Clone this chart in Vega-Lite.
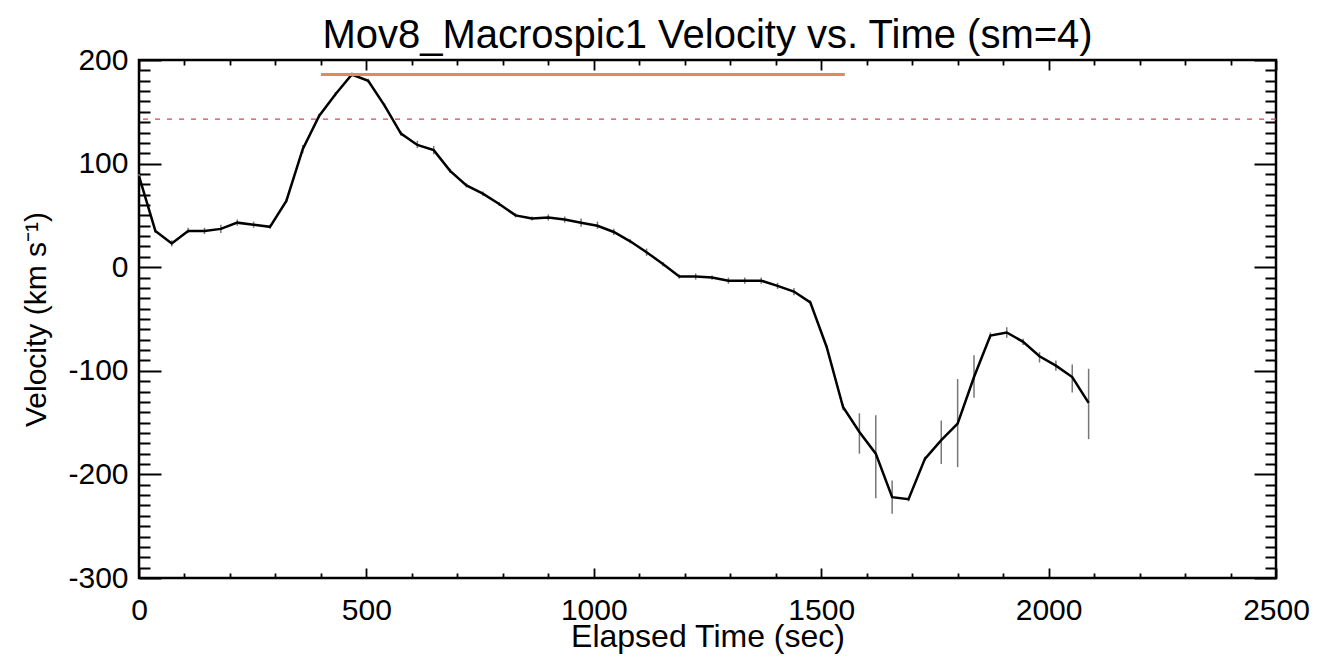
{
  "$schema": "https://vega.github.io/schema/vega-lite/v6.json",
  "width": 1137,
  "height": 518,
  "autosize": {"type": "none"},
  "padding": {"left": 139, "top": 60, "right": 42, "bottom": 84},
  "background": "white",
  "config": {
    "view": {"stroke": "black", "strokeWidth": 2.5},
    "font": "Liberation Sans"
  },
  "title": {
    "text": "Mov8_Macrospic1 Velocity vs. Time (sm=4)",
    "fontSize": 40,
    "font": "Liberation Sans",
    "fontWeight": "normal",
    "color": "black",
    "anchor": "middle",
    "baseline": "alphabetic",
    "offset": -43
  },
  "data": {
    "values": [
      {"t": 0, "v": 88, "lo": 86, "hi": 90},
      {"t": 36, "v": 35, "lo": 33, "hi": 37},
      {"t": 72, "v": 23, "lo": 20, "hi": 26},
      {"t": 108, "v": 35, "lo": 33, "hi": 38},
      {"t": 144, "v": 35, "lo": 32, "hi": 38},
      {"t": 180, "v": 37, "lo": 33, "hi": 41},
      {"t": 216, "v": 43, "lo": 40, "hi": 46},
      {"t": 252, "v": 41, "lo": 38, "hi": 44},
      {"t": 288, "v": 39, "lo": 37, "hi": 41},
      {"t": 324, "v": 64, "lo": 62, "hi": 66},
      {"t": 360, "v": 114, "lo": 110, "hi": 118},
      {"t": 396, "v": 146, "lo": 144, "hi": 148},
      {"t": 432, "v": 167, "lo": 165, "hi": 169},
      {"t": 468, "v": 186, "lo": 184, "hi": 188},
      {"t": 504, "v": 180, "lo": 178, "hi": 182},
      {"t": 540, "v": 156, "lo": 154, "hi": 158},
      {"t": 576, "v": 129, "lo": 127, "hi": 131},
      {"t": 612, "v": 118, "lo": 115, "hi": 122},
      {"t": 648, "v": 113, "lo": 109, "hi": 117},
      {"t": 684, "v": 93, "lo": 91, "hi": 95},
      {"t": 720, "v": 79, "lo": 77, "hi": 81},
      {"t": 756, "v": 71, "lo": 69, "hi": 73},
      {"t": 792, "v": 61, "lo": 59, "hi": 63},
      {"t": 828, "v": 50, "lo": 48, "hi": 52},
      {"t": 864, "v": 47, "lo": 45, "hi": 49},
      {"t": 900, "v": 48, "lo": 45, "hi": 51},
      {"t": 936, "v": 46, "lo": 43, "hi": 49},
      {"t": 972, "v": 43, "lo": 39, "hi": 47},
      {"t": 1008, "v": 40, "lo": 37, "hi": 44},
      {"t": 1044, "v": 34, "lo": 31, "hi": 37},
      {"t": 1080, "v": 25, "lo": 23, "hi": 27},
      {"t": 1116, "v": 14.5, "lo": 11, "hi": 18},
      {"t": 1152, "v": 3, "lo": 1, "hi": 5},
      {"t": 1188, "v": -9, "lo": -11, "hi": -7},
      {"t": 1224, "v": -9, "lo": -12, "hi": -6},
      {"t": 1260, "v": -10, "lo": -12, "hi": -8},
      {"t": 1296, "v": -13, "lo": -16, "hi": -10},
      {"t": 1332, "v": -13, "lo": -16, "hi": -10},
      {"t": 1368, "v": -13, "lo": -16, "hi": -10},
      {"t": 1404, "v": -18, "lo": -21, "hi": -15},
      {"t": 1440, "v": -23.5, "lo": -27, "hi": -20},
      {"t": 1476, "v": -34, "lo": -36, "hi": -32},
      {"t": 1512, "v": -77, "lo": -79, "hi": -75},
      {"t": 1548, "v": -135, "lo": -138, "hi": -132},
      {"t": 1584, "v": -159, "lo": -180, "hi": -141},
      {"t": 1620, "v": -180, "lo": -223, "hi": -143},
      {"t": 1656, "v": -222, "lo": -238, "hi": -206},
      {"t": 1692, "v": -224, "lo": -226, "hi": -222},
      {"t": 1728, "v": -185, "lo": -187, "hi": -183},
      {"t": 1764, "v": -167, "lo": -190, "hi": -148},
      {"t": 1800, "v": -151, "lo": -193, "hi": -108},
      {"t": 1836, "v": -106, "lo": -126, "hi": -85},
      {"t": 1872, "v": -66, "lo": -69, "hi": -63},
      {"t": 1908, "v": -63, "lo": -68, "hi": -58},
      {"t": 1944, "v": -72, "lo": -75, "hi": -69},
      {"t": 1980, "v": -86, "lo": -92, "hi": -82},
      {"t": 2016, "v": -95, "lo": -100, "hi": -90},
      {"t": 2052, "v": -106, "lo": -121, "hi": -94},
      {"t": 2088, "v": -131, "lo": -166, "hi": -98}
    ]
  },
  "layer": [
    {
      "mark": {"type": "rule", "color": "#777777", "strokeWidth": 1.5},
      "encoding": {
        "x": {
          "field": "t", "type": "quantitative",
          "scale": {"domain": [0, 2500], "nice": false, "zero": false},
          "axis": {
            "orient": "bottom",
            "title": "Elapsed Time (sec)",
            "values": [0,100,200,300,400,500,600,700,800,900,1000,1100,1200,1300,1400,1500,1600,1700,1800,1900,2000,2100,2200,2300,2400,2500],
            "labelExpr": "datum.value % 500 === 0 ? '' + datum.value : ''",
            "tickSize": {"condition": {"test": "datum.value % 500 === 0", "value": -10}, "value": -5},
            "tickColor": "black", "tickWidth": 1.8,
            "domain": false, "grid": false,
            "labelFontSize": 30, "labelFont": "Liberation Sans", "labelColor": "black",
            "labelPadding": 27, "labelFlush": false, "labelOverlap": false,
            "titleFontSize": 32, "titleFont": "Liberation Sans", "titleColor": "black",
            "titleFontWeight": "normal", "titlePadding": -9
          }
        },
        "y": {
          "field": "lo", "type": "quantitative",
          "scale": {"domain": [-300, 200], "nice": false, "zero": false},
          "axis": {
            "orient": "left",
            "title": "Velocity (km s⁻¹)",
            "values": [-300,-290,-280,-270,-260,-250,-240,-230,-220,-210,-200,-190,-180,-170,-160,-150,-140,-130,-120,-110,-100,-90,-80,-70,-60,-50,-40,-30,-20,-10,0,10,20,30,40,50,60,70,80,90,100,110,120,130,140,150,160,170,180,190,200],
            "labelExpr": "datum.value % 100 === 0 ? '' + datum.value : ''",
            "tickSize": {"condition": {"test": "datum.value % 100 === 0", "value": -22}, "value": -11},
            "tickColor": "black", "tickWidth": 2,
            "domain": false, "grid": false,
            "labelFontSize": 30, "labelFont": "Liberation Sans", "labelColor": "black",
            "labelPadding": 33, "labelFlush": false, "labelOverlap": false,
            "titleFontSize": 30, "titleFont": "Liberation Sans", "titleColor": "black",
            "titleFontWeight": "normal", "titlePadding": 16
          }
        },
        "y2": {"field": "hi"}
      }
    },
    {
      "mark": {"type": "line", "color": "black", "strokeWidth": 2.5},
      "encoding": {
        "x": {
          "field": "t", "type": "quantitative",
          "axis": {
            "orient": "top", "title": null, "labels": false,
            "values": [0,100,200,300,400,500,600,700,800,900,1000,1100,1200,1300,1400,1500,1600,1700,1800,1900,2000,2100,2200,2300,2400,2500],
            "tickSize": {"condition": {"test": "datum.value % 500 === 0", "value": -10}, "value": -5},
            "tickColor": "black", "tickWidth": 1.8,
            "domain": false, "grid": false
          }
        },
        "y": {
          "field": "v", "type": "quantitative",
          "axis": {
            "orient": "right", "title": null, "labels": false,
            "values": [-300,-290,-280,-270,-260,-250,-240,-230,-220,-210,-200,-190,-180,-170,-160,-150,-140,-130,-120,-110,-100,-90,-80,-70,-60,-50,-40,-30,-20,-10,0,10,20,30,40,50,60,70,80,90,100,110,120,130,140,150,160,170,180,190,200],
            "tickSize": {"condition": {"test": "datum.value % 100 === 0", "value": -22}, "value": -11},
            "tickColor": "black", "tickWidth": 2,
            "domain": false, "grid": false
          }
        }
      }
    },
    {
      "data": {"values": [{"t0": 400, "t1": 1552, "lvl": 186}]},
      "mark": {"type": "rule", "color": "#E0895A", "strokeWidth": 3},
      "encoding": {
        "x": {"field": "t0", "type": "quantitative", "axis": null},
        "x2": {"field": "t1"},
        "y": {"field": "lvl", "type": "quantitative", "axis": null}
      }
    },
    {
      "data": {"values": [{"lvl": 143}]},
      "mark": {"type": "rule", "color": "#E04050", "strokeWidth": 1.2, "strokeDash": [5, 7]},
      "encoding": {
        "y": {"field": "lvl", "type": "quantitative", "axis": null}
      }
    }
  ],
  "resolve": {"axis": {"x": "independent", "y": "independent"}}
}
